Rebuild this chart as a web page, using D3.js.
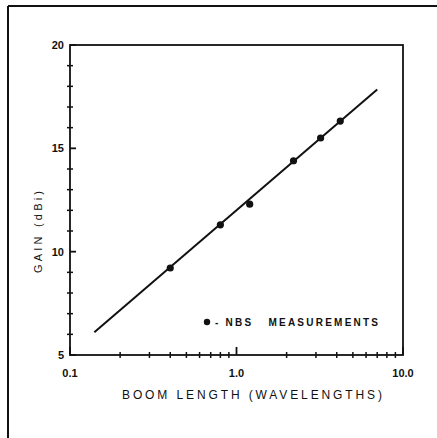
<!DOCTYPE html>
<html><head><meta charset="utf-8">
<script src="https://cdn.jsdelivr.net/npm/d3@7"></script>
<style>body{margin:0;background:#fff}svg{display:block}text{font-family:"Liberation Sans",Arial,sans-serif;fill:#111}</style>
</head><body>
<script>
// Data
const boomLength = [0.4, 0.8, 1.2, 2.2, 3.2, 4.2];      // wavelengths
const gainDbi    = [9.21, 11.3, 12.3, 14.4, 15.5, 16.32];  // NBS measurements
const fitLength  = [0.14, 7.0];
const fitGain    = [6.1, 17.85];
const yTicks = [5, 10, 15, 20];
const yTickLabels = ["5", "10", "15", "20"];
const xTicks = [0.1, 1, 10];
const xTickLabels = ["0.1", "1.0", "10.0"];

const W = 437, H = 438;
const svg = d3.select("body").append("svg").attr("width", W).attr("height", H);

const x = d3.scaleLog().domain([0.1, 10]).range([70, 403]);
const y = d3.scaleLinear().domain([5, 20]).range([355, 45]);

// page frame (scanned border)
svg.append("line").attr("x1", 8).attr("x2", W).attr("y1", 6).attr("y2", 6).attr("stroke", "#111").attr("stroke-width", 2);
svg.append("line").attr("x1", 8).attr("x2", 8).attr("y1", 6).attr("y2", H).attr("stroke", "#111").attr("stroke-width", 2);

// plot frame
svg.append("rect").attr("x", x.range()[0]).attr("y", y.range()[1])
  .attr("width", x.range()[1] - x.range()[0]).attr("height", y.range()[0] - y.range()[1])
  .attr("fill", "none").attr("stroke", "#111").attr("stroke-width", 1.8);

// y ticks
const yMinor = d3.range(5, 21).filter(v => !yTicks.includes(v));
svg.selectAll(".ymin").data(yMinor).join("line")
  .attr("x1", x(0.1) - 3).attr("x2", x(0.1) + 3)
  .attr("y1", d => y(d)).attr("y2", d => y(d)).attr("stroke", "#111").attr("stroke-width", 1.5);
svg.selectAll(".ymaj").data(yTicks).join("line")
  .attr("x1", x(0.1)).attr("x2", x(0.1) + 6)
  .attr("y1", d => y(d)).attr("y2", d => y(d)).attr("stroke", "#111").attr("stroke-width", 1.8);
svg.selectAll(".ylab").data(yTicks).join("text")
  .attr("x", x(0.1) - 6).attr("y", d => y(d) + 4).attr("text-anchor", "end")
  .attr("font-size", 11).attr("font-weight", "bold")
  .text((d, i) => yTickLabels[i]);

// x ticks
const xMinor = [];
[0.1, 1].forEach(b => { for (let k = 2; k <= 9; k++) xMinor.push(b * k); });
svg.selectAll(".xmin").data(xMinor).join("line")
  .attr("x1", d => x(d)).attr("x2", d => x(d))
  .attr("y1", y(5) - 3).attr("y2", y(5) + 3).attr("stroke", "#111").attr("stroke-width", 1.5);
svg.selectAll(".xmaj").data(xTicks).join("line")
  .attr("x1", d => x(d)).attr("x2", d => x(d))
  .attr("y1", y(5) - 8).attr("y2", y(5)).attr("stroke", "#111").attr("stroke-width", 1.8);
svg.selectAll(".xlab").data(xTicks).join("text")
  .attr("x", d => x(d)).attr("y", y(5) + 22).attr("text-anchor", "middle")
  .attr("font-size", 11).attr("font-weight", "bold")
  .text((d, i) => xTickLabels[i]);

// fit line
const line = d3.line().x(d => x(d[0])).y(d => y(d[1]));
svg.append("path").datum(fitLength.map((v, i) => [v, fitGain[i]]))
  .attr("d", line).attr("fill", "none").attr("stroke", "#111").attr("stroke-width", 2);

// points
svg.selectAll(".pt").data(boomLength.map((v, i) => [v, gainDbi[i]])).join("circle")
  .attr("cx", d => x(d[0])).attr("cy", d => y(d[1])).attr("r", 3.6).attr("fill", "#111");

// legend
svg.append("circle").attr("cx", 207).attr("cy", 322).attr("r", 3.2).attr("fill", "#111");
svg.append("text").attr("x", 215).attr("y", 326).attr("font-size", 10).attr("font-weight", "bold")
  .attr("textLength", 163).attr("lengthAdjust", "spacing")
  .attr("xml:space", "preserve").text("- NBS   MEASUREMENTS");

// axis titles
svg.append("text").attr("x", 252).attr("y", 399).attr("text-anchor", "middle")
  .attr("font-size", 12).attr("textLength", 260).attr("lengthAdjust", "spacing")
  .text("BOOM LENGTH (WAVELENGTHS)");
svg.append("text").attr("transform", "translate(42,232) rotate(-90)").attr("text-anchor", "middle")
  .attr("font-size", 11).attr("textLength", 82).attr("lengthAdjust", "spacing")
  .text("GAIN (dBi)");
</script>
</body></html>
